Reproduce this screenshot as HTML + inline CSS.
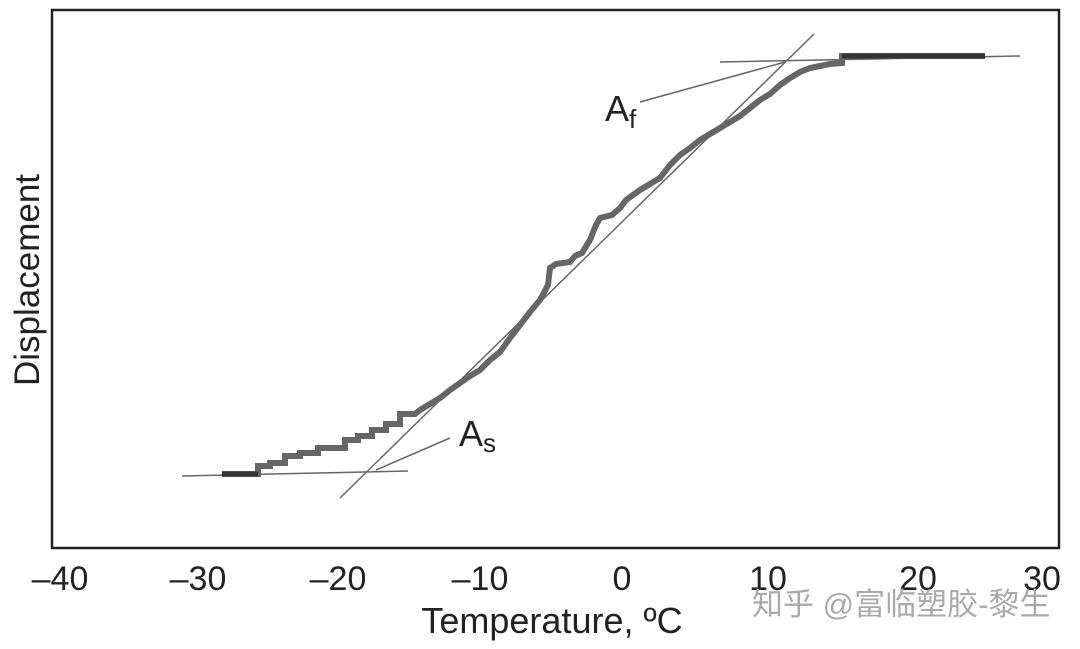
<!DOCTYPE html>
<html><head><meta charset="utf-8"><style>body{margin:0;background:#fff}svg{display:block}</style></head><body>
<svg width="1080" height="649" xmlns="http://www.w3.org/2000/svg" font-family="Liberation Sans, Noto Sans CJK SC, sans-serif">
<rect x="52" y="10" width="1007" height="538" fill="none" stroke="#222" stroke-width="2.5"/>
<g stroke="#666" stroke-width="1.5" fill="none">
<line x1="182" y1="476" x2="408" y2="471"/>
<line x1="340" y1="498" x2="814" y2="34"/>
<line x1="720" y1="62" x2="1020" y2="56"/>
<line x1="376" y1="470" x2="450" y2="438"/>
<line x1="640" y1="102" x2="785" y2="62"/>
</g>
<polyline fill="none" stroke="#666" stroke-width="6" stroke-linejoin="miter" points="222,474 258,474 258,466 270,466 270,463 285,463 285,456 300,456 300,453 318,453 318,448 330,448 345,448 345,440 358,440 358,436 372,436 372,430 386,430 386,424 400,424 400,414 415,414 420,410 430,404 440,398 450,390 460,383 470,376 480,370 490,360 500,352 510,338 520,325 530,312 540,300 548,285 550,268 556,264 570,262 575,256 582,253 590,240 596,225 600,218 612,215 620,208 626,200 640,190 650,184 660,178 670,165 680,155 690,148 700,140 710,134 720,128 730,122 740,116 750,108 760,100 770,94 780,85 790,78 800,72 810,68 820,66 830,64 842,63 842,56 985,56"/>
<polyline fill="none" stroke="#333" stroke-width="5" points="222,474 258,474"/>
<polyline fill="none" stroke="#333" stroke-width="5" points="842,56 985,56"/>
<g font-size="36" fill="#222">
<text x="459" y="446">A<tspan font-size="26" dy="6">s</tspan></text>
<text x="605" y="121">A<tspan font-size="26" dy="7">f</tspan></text>
</g>
<g font-size="34" fill="#222" text-anchor="middle">
<text x="60" y="590">–40</text>
<text x="198" y="590">–30</text>
<text x="338" y="590">–20</text>
<text x="480" y="590">–10</text>
<text x="622" y="590">0</text>
<text x="768" y="590">10</text>
<text x="918" y="590">20</text>
<text x="1042" y="590">30</text>
<text x="552" y="633" font-size="36">Temperature, ºC</text>
<text transform="translate(39,280) rotate(-90)" font-size="35">Displacement</text>
</g>
<text x="752" y="615" font-size="31" fill="#aaa">知乎 @富临塑胶-黎生</text>
</svg>
</body></html>
